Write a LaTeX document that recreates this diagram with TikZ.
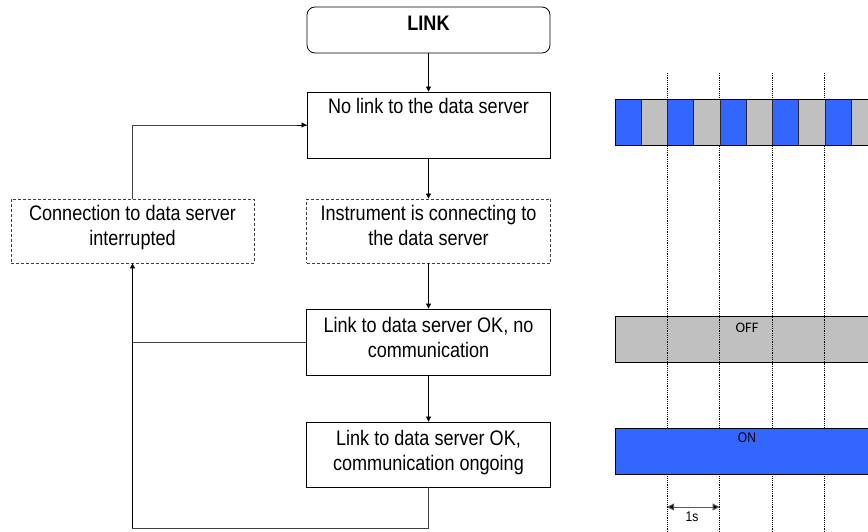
\documentclass[tikz,border=0pt]{standalone}
\usepackage{fontspec}
\setmainfont{Liberation Sans}
\newfontfamily\nar{Liberation Sans}[FakeStretch=0.86]
\newfontfamily\carl{Carlito}
\usetikzlibrary{arrows.meta}
\definecolor{segblue}{HTML}{3366FF}
\definecolor{seggray}{HTML}{C0C0C0}
\definecolor{lineg}{HTML}{404040}
\tikzset{
  flowbox/.style={draw=black, line width=0.8pt, minimum width=243pt, inner sep=0pt},
  dashbox/.style={draw=lineg, line width=0.8pt, dash pattern=on 3pt off 2pt, minimum width=243pt, inner sep=0pt},
  boxtext/.style={anchor=north, inner sep=0pt, align=center, font=\nar\fontsize{21}{25.5}\selectfont},
  arr/.style={draw=black, line width=0.7pt, -{Triangle[length=5pt,width=5pt]}},
  loopline/.style={draw=lineg, line width=0.8pt},
  tick/.style={draw=black, line width=0.8pt, dash pattern=on 1.2pt off 1pt},
  barframe/.style={draw=black, line width=0.9pt}
}
\begin{document}
\begin{tikzpicture}[x=1pt, y=-1pt]
\useasboundingbox (0,0) rectangle (868,532);
% flow boxes
\node[flowbox, rounded corners=8pt, minimum height=46pt] (link) at (428.5,30) {};
\node[boxtext, font=\nar\bfseries\fontsize{21}{25.5}\selectfont] (linkt) at (428.5,16) {LINK};
\node[flowbox, minimum height=66pt] (nolink) at (428.5,125) {};
\node[boxtext] (nolinkt) at (428.5,98) {No link to the data server};
\node[dashbox, minimum width=244pt, minimum height=64pt] (inst) at (428.5,231) {};
\node[boxtext] (instt) at (428.5,205) {Instrument is connecting to\\the data server};
\node[dashbox, minimum height=64pt] (interr) at (132.5,231) {};
\node[boxtext] (interrt) at (132.5,205) {Connection to data server\\interrupted};
\node[flowbox, minimum width=244pt, minimum height=66pt] (ok1) at (428.5,342) {};
\node[boxtext] (ok1t) at (428.5,317) {Link to data server OK, no\\communication};
\node[flowbox, minimum width=244pt, minimum height=65pt] (ok2) at (428.5,454.5) {};
\node[boxtext] (ok2t) at (428.5,430) {Link to data server OK,\\communication ongoing};
% connectors
\draw[arr] (link) -- (nolink);
\draw[arr] (nolink) -- (inst);
\draw[arr] (inst) -- (ok1);
\draw[arr] (ok1) -- (ok2);
\draw[loopline] (ok2.south) -- ++(0,41) coordinate (bl) -| (interr.south);
\draw[arr] (bl -| interr.south) -- (interr.south);
\draw[loopline] (ok1.west) -- (ok1.west -| interr.south);
\draw[loopline] (interr.north) |- (nolink.west);
\draw[arr] ([xshift=-10pt]nolink.west) -- (nolink.west);
% timing diagram
\begin{scope}
\clip (0,0) rectangle (868,532);
\fill[seggray] (615,316) rectangle (875,362);
\draw[barframe] (875,316) -- (615,316) -- (615,362) -- (875,362);
\node[font=\carl\fontsize{14.5}{16}\selectfont, inner sep=0pt] (offt) at (747,327.5) {OFF};
\foreach \x in {667,719.5,772,824.5}
  \draw[tick] (\x,73) -- (\x,532);
\foreach \i in {0,...,9} {
  \pgfmathsetmacro{\xa}{615+26.25*\i}
  \pgfmathsetmacro{\xb}{615+26.25*(\i+1)}
  \ifodd\i
    \fill[seggray] (\xa,99) rectangle (\xb,145);
  \else
    \fill[segblue] (\xa,99) rectangle (\xb,145);
  \fi
  \draw[draw=black!85, line width=0.9pt] (\xa,99) -- (\xa,145);
}
\draw[barframe] (875,99) -- (615,99) -- (615,145) -- (875,145);
\fill[segblue] (615,428) rectangle (875,474);
\draw[barframe] (875,428) -- (615,428) -- (615,474) -- (875,474);
\node[font=\nar\fontsize{14}{16}\selectfont, inner sep=0pt] (ont) at (747,438) {ON};
\coordinate (s0) at (667,507);
\coordinate (s1) at (719.5,507);
\draw[draw=black!65, line width=1pt, {Triangle[length=7pt,width=7pt,fill=black]}-{Triangle[length=7pt,width=7pt,fill=black]}] (s0) -- (s1);
\node[font=\nar\fontsize{14}{16}\selectfont, inner sep=0pt] (onesec) at (692,517) {1s};
\end{scope}
\end{tikzpicture}
\end{document}
